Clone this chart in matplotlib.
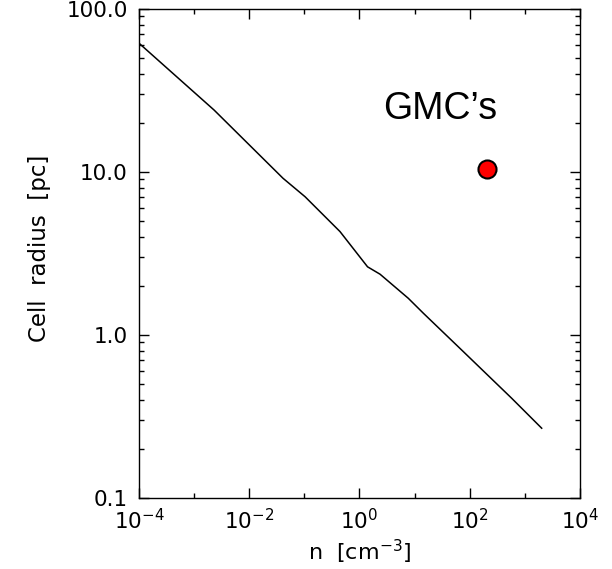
import numpy as np
import matplotlib
matplotlib.use("Agg")
import matplotlib.pyplot as plt
from matplotlib.ticker import LogLocator, FixedLocator, FuncFormatter, NullFormatter

plt.rcParams["font.family"] = ["DejaVu Sans"]
plt.rcParams["mathtext.fontset"] = "dejavusans"

# cell radius vs. density
density = [1e-4, 2.30e-3, 0.041, 0.103, 0.443, 1.40, 2.36,
           7.67, 14.4, 76.4, 577, 2018]
radius = [61.7, 24.0, 9.15, 7.05, 4.31, 2.62, 2.36,
          1.68, 1.36, 0.791, 0.409, 0.268]

# typical giant molecular cloud
gmc_n = [203]
gmc_r = [10.4]

fig = plt.figure(figsize=(6.12, 5.69), dpi=100)
ax = fig.add_axes([0.2271, 0.1248, 0.7206, 0.8594])

ax.plot(density, radius, color="black", lw=1.1)
ax.plot(gmc_n, gmc_r, "o", ms=13, mfc="red", mec="black", mew=1.5)
ax.text(2.67, 21.1, "GMC\u2019s", fontsize=27, va="baseline", ha="left",
        family=["Liberation Sans", "DejaVu Sans"])

ax.set_xscale("log")
ax.set_yscale("log")
ax.set_xlim(1e-4, 1e4)
ax.set_ylim(0.1, 100)

# major ticks every two decades on x, odd decades as minor
ax.xaxis.set_major_locator(FixedLocator([1e-4, 1e-2, 1e0, 1e2, 1e4]))
ax.xaxis.set_minor_locator(FixedLocator([1e-3, 1e-1, 1e1, 1e3]))
ax.xaxis.set_major_formatter(FuncFormatter(lambda v, p: r"$10^{%d}$" % round(np.log10(v))))
ax.xaxis.set_minor_formatter(NullFormatter())

ax.yaxis.set_major_locator(FixedLocator([0.1, 1, 10, 100]))
ax.yaxis.set_minor_locator(LogLocator(base=10, subs=np.arange(2, 10)))
ax.yaxis.set_major_formatter(FuncFormatter(lambda v, p: "%.1f" % v))
ax.yaxis.set_minor_formatter(NullFormatter())

ax.tick_params(which="both", direction="in", top=True, right=True, width=1.0, labelsize=15.5)
ax.tick_params(which="major", length=7)
ax.tick_params(which="minor", length=3.5)
ax.tick_params(axis="x", pad=7)
ax.tick_params(axis="y", pad=8)
for s in ax.spines.values():
    s.set_linewidth(1.0)

ax.set_xlabel(r"n  [cm$^{-3}$]", fontsize=16)
ax.set_ylabel("Cell  radius  [pc]", fontsize=16.5)
ax.xaxis.set_label_coords(0.5, -0.082)
ax.yaxis.set_label_coords(-0.2, 0.51)

fig.savefig("out.png", dpi=100)
